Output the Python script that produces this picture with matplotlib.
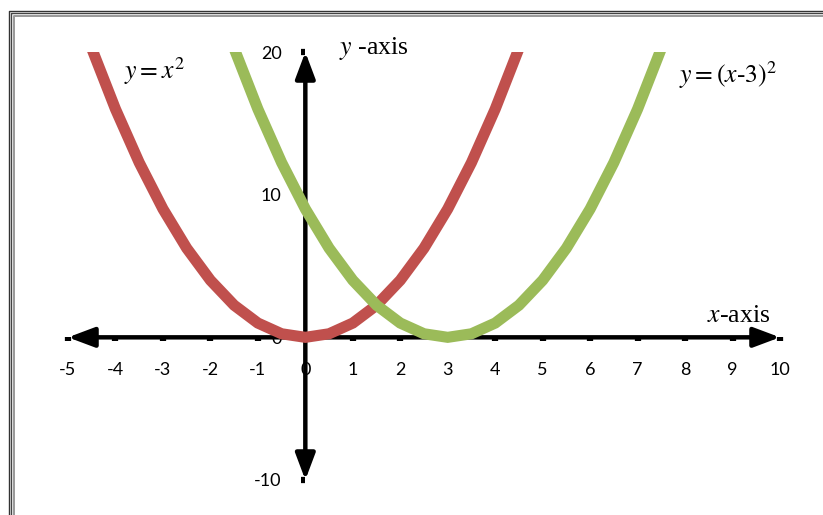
import matplotlib
matplotlib.use("Agg")
import matplotlib.pyplot as plt
from matplotlib.lines import Line2D

# ---- data ----
x_red = [-5, -4.5, -4, -3.5, -3, -2.5, -2, -1.5, -1, -0.5, 0, 0.5, 1, 1.5, 2, 2.5, 3, 3.5, 4, 4.5, 5]
y_red = [25, 20.25, 16, 12.25, 9, 6.25, 4, 2.25, 1, 0.25, 0, 0.25, 1, 2.25, 4, 6.25, 9, 12.25, 16, 20.25, 25]
x_green = [-2, -1.5, -1, -0.5, 0, 0.5, 1, 1.5, 2, 2.5, 3, 3.5, 4, 4.5, 5, 5.5, 6, 6.5, 7, 7.5, 8]
y_green = [25, 20.25, 16, 12.25, 9, 6.25, 4, 2.25, 1, 0.25, 0, 0.25, 1, 2.25, 4, 6.25, 9, 12.25, 16, 20.25, 25]
x_ticks = list(range(-5, 11))
y_ticks = [-10, 0, 10, 20]
x_range = (-5, 10)
y_range = (-10, 20)

RED = "#C0504D"
GREEN = "#9BBB59"

plt.rcParams["mathtext.fontset"] = "stix"

W, H = 823, 515
fig = plt.figure(figsize=(W / 100, H / 100), dpi=100)
fig.patch.set_facecolor("white")

# axes placed so that data range maps to pixel region
left_px, right_px, top_px, bot_px = 68, 780, 52, 480
ax = fig.add_axes([left_px / W, 1 - bot_px / H, (right_px - left_px) / W, (bot_px - top_px) / H])
ax.set_xlim(*x_range)
ax.set_ylim(*y_range)
ax.patch.set_alpha(0)

for s in ["top", "right"]:
    ax.spines[s].set_visible(False)
ax.spines["left"].set_position(("data", 0))
ax.spines["bottom"].set_position(("data", 0))
ax.spines["left"].set_visible(False)
ax.spines["bottom"].set_visible(False)

ax.set_xticks(x_ticks)
ax.set_yticks(y_ticks)
ax.set_xticklabels([str(v) for v in x_ticks])
ax.set_yticklabels([str(v) for v in y_ticks])
ax.tick_params(axis="x", direction="out", length=3, width=4.5, pad=15, labelsize=13, color="black")
ax.tick_params(axis="y", direction="out", length=3, width=4.5, pad=14, labelsize=13, color="black")
for lab in ax.get_xticklabels() + ax.get_yticklabels():
    lab.set_fontfamily("Lato")

# axis arrows
arrow_kw = dict(arrowstyle="<|-|>,head_length=1.6,head_width=0.6", mutation_scale=10,
                lw=3.2, color="black", shrinkA=0, shrinkB=0)
ax.annotate("", xy=(x_range[1], 0), xytext=(x_range[0], 0), arrowprops=arrow_kw, zorder=1)
ax.annotate("", xy=(0, y_range[1]), xytext=(0, y_range[0]), arrowprops=arrow_kw, zorder=1)

# curves
ax.plot(x_red, y_red, color=RED, lw=8, zorder=3, solid_joinstyle="miter")
ax.plot(x_green, y_green, color=GREEN, lw=8, zorder=3, solid_joinstyle="miter")

# labels
serif = "Liberation Serif"
fs = 18.5
fig.text(124 / W, 1 - 71 / H, r"$y = x^{2}$", fontsize=fs, ha="left", va="center", family=serif)
fig.text(679 / W, 1 - 75 / H, r"$y = (x\mathrm{\text{-}}3)^{2}$", fontsize=fs, ha="left", va="center", family=serif)
fig.text(339 / W, 1 - 48 / H, r"$y$ -axis", fontsize=fs, ha="left", va="center", family=serif)
fig.text(707 / W, 1 - 316 / H, r"$x$-axis", fontsize=fs, ha="left", va="center", family=serif)

# double frame
def frame_line(xp, yp, color, lw=1.0):
    fig.add_artist(Line2D([xp / W, xp / W, 1.0], [0.0, 1 - yp / H, 1 - yp / H],
                          transform=fig.transFigure, color=color, lw=lw))

frame_line(8.5, 10.5, "#333333")
frame_line(11, 12.5, "#444444")
frame_line(14, 15.5, "#999999", lw=1.4)

fig.savefig("out.png", dpi=100)
